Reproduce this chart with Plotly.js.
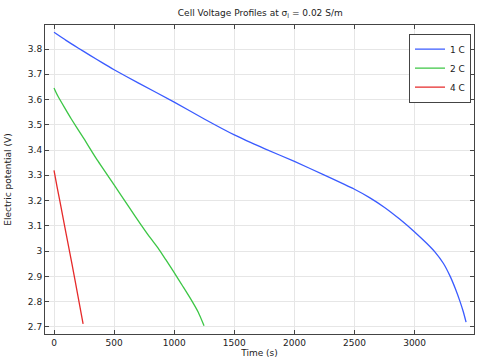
<!DOCTYPE html>
<html>
<head>
<meta charset="utf-8">
<script src="https://cdn.plot.ly/plotly-3.0.1.min.js"></script>
<style>html,body{margin:0;padding:0;background:#fff;}#chart{width:482px;height:363px;}</style>
</head>
<body>
<div id="chart"></div>
<script>
// 1 C discharge
const t1C = [0, 100, 200, 300, 400, 500, 700, 1000, 1250, 1500, 1750, 2000, 2250, 2500, 2625, 2750, 2875, 3000, 3100, 3170, 3240, 3295, 3340, 3378, 3405, 3428];
const v1C = [3.866, 3.834, 3.804, 3.775, 3.746, 3.718, 3.666, 3.590, 3.523, 3.460, 3.406, 3.355, 3.301, 3.245, 3.212, 3.173, 3.127, 3.076, 3.031, 2.996, 2.951, 2.901, 2.850, 2.800, 2.760, 2.719];
// 2 C discharge
const t2C = [0, 15, 33, 89, 144, 250, 352, 500, 620, 727, 800, 866, 930, 1000, 1070, 1143, 1200, 1248];
const v2C = [3.646, 3.630, 3.613, 3.567, 3.523, 3.444, 3.366, 3.262, 3.177, 3.102, 3.053, 3.012, 2.966, 2.915, 2.862, 2.806, 2.758, 2.705];
// 4 C discharge
const t4C = [0, 25, 50, 100, 150, 200, 242];
const v4C = [3.320, 3.255, 3.195, 3.070, 2.948, 2.820, 2.712];

const seriesNames = ['1 C', '2 C', '4 C'];
const xTickVals = [0, 500, 1000, 1500, 2000, 2500, 3000];
const yTickVals = [2.7, 2.8, 2.9, 3.0, 3.1, 3.2, 3.3, 3.4, 3.5, 3.6, 3.7, 3.8];

const FONT = 'DejaVu Sans, sans-serif';
const colors = ['#3a5bff', '#3cc645', '#e62a2a'];
const xs = [t1C, t2C, t4C], ys = [v1C, v2C, v4C];

const traces = xs.map((x, i) => ({
  x: x, y: ys[i], type: 'scatter', mode: 'lines', name: seriesNames[i],
  line: {color: colors[i], width: 1.3, shape: 'spline', smoothing: 0.5}
}));

const axisCommon = {
  showline: true, linecolor: '#444', linewidth: 1, mirror: 'ticks',
  ticks: 'inside', ticklen: 4, tickcolor: '#444', tickwidth: 1,
  showgrid: true, gridcolor: '#e6e6e6', gridwidth: 1, zeroline: false,
  tickfont: {family: FONT, size: 9, color: '#222'}
};

const layout = {
  width: 482, height: 363,
  margin: {l: 45, r: 8, t: 25, b: 29},
  paper_bgcolor: '#fff', plot_bgcolor: '#fff',
  font: {family: FONT, size: 9, color: '#222'},
  title: {text: 'Cell Voltage Profiles at σ<sub>l</sub> = 0.02 S/m', font: {family: FONT, size: 9, color: '#222'}, x: 0.54, xanchor: 'center', y: 0.965, yanchor: 'middle'},
  xaxis: Object.assign({}, axisCommon, {range: [-75, 3494], tickvals: xTickVals, title: {text: 'Time (s)', font: {family: FONT, size: 9, color: '#222'}, standoff: 0}}),
  yaxis: Object.assign({}, axisCommon, {range: [2.672, 3.895], tickvals: yTickVals, title: {text: 'Electric potential (V)', font: {family: FONT, size: 9, color: '#222'}, standoff: 14}}),
  legend: {x: 0.993, xanchor: 'right', y: 0.972, yanchor: 'top', bgcolor: '#fff', bordercolor: '#444', borderwidth: 1, font: {family: FONT, size: 9, color: '#222'}, tracegroupgap: 0, itemwidth: 30},
  showlegend: true
};

Plotly.newPlot('chart', traces, layout, {displayModeBar: false, staticPlot: true});
</script>
</body>
</html>
